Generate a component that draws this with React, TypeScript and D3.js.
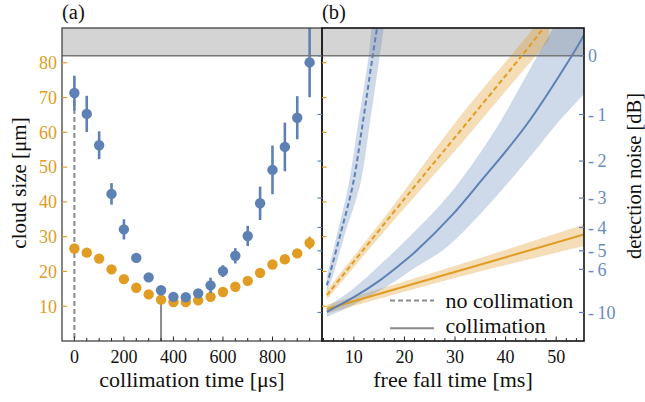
import React from "react";
import * as d3 from "d3";

// ---------- panel (a) data ----------
const collimationTimes = [0, 50, 100, 150, 200, 250, 300, 350, 400, 450, 500, 550, 600, 650, 700, 750, 800, 850, 900, 950];
const blueCloudSize = [71.3, 65.3, 56.3, 42.3, 32.1, 23.9, 18.3, 14.6, 12.7, 12.6, 13.7, 16.0, 20.1, 24.5, 30.2, 39.6, 49.2, 55.8, 64.2, 80.1];
const blueCloudErr = [5.0, 5.2, 4.0, 3.1, 2.9, 1.2, 0.8, 0.6, 0.6, 0.6, 0.8, 2.2, 1.7, 2.2, 2.9, 4.8, 7.0, 7.0, 6.2, 10.0];
const orangeCloudSize = [26.6, 25.4, 23.7, 20.6, 17.8, 15.3, 13.4, 11.9, 11.2, 11.2, 11.7, 12.7, 14.1, 15.6, 17.3, 19.6, 22.0, 23.5, 25.2, 28.2];
const orangeCloudErr = [0.5, 0.5, 0.5, 0.5, 0.5, 0.5, 0.5, 0.5, 0.5, 0.5, 0.5, 0.5, 0.5, 0.5, 0.5, 0.5, 0.6, 0.6, 0.8, 1.8];
const sizeTicks = [10, 20, 30, 40, 50, 60, 70, 80];
const collimationTicks = [0, 200, 400, 600, 800];
const dashedMarkerTime = 0;
const solidMarkerTime = 350;

// ---------- panel (b) data (free fall time ms, cloud size um) ----------
const blueNoCollT = [4.66, 7.3, 9.8, 11.7, 13.7, 14.8];
const blueNoCollS = [16.0, 30.5, 44.9, 62.1, 81.8, 92];
const blueNoCollUpT = [4.66, 6.64, 8.95, 10.8, 12.9, 13.6];
const blueNoCollUpS = [18.6, 30.5, 44.9, 62.1, 81.8, 92];
const blueNoCollLoT = [4.66, 5.45, 8.16, 11.25, 13.1, 15.1, 16.1];
const blueNoCollLoS = [14.5, 17.0, 30.5, 44.9, 62.1, 81.8, 92];

const orangeNoCollT = [4.66, 22.25, 29.57, 43.06, 48.6];
const orangeNoCollS = [13.2, 44.9, 57.8, 81.8, 92];
const orangeNoCollBandT = [4.66, 17, 29.6, 43, 48.6];
const orangeNoCollHi = [14.6, 37.4, 62.0, 85.5, 95.5];
const orangeNoCollLo = [11.9, 33.2, 54.0, 77.0, 86.5];

const blueCollT = [4.66, 10, 15, 19, 22.1, 29.6, 34.5, 44.1, 53, 55.5];
const blueCollS = [8.4, 12.6, 17.3, 21.8, 25.6, 36.5, 44.9, 62.1, 81.8, 88];
const blueCollBandT = [4.66, 10, 16.9, 22, 27.3, 31, 38.1, 45.7, 50, 55.5];
const blueCollHi = [9.8, 15.2, 24.2, 31.5, 39.5, 46.0, 61.0, 80.5, 91.5, 106];
const blueCollLo = [6.9, 10.4, 16.0, 21.0, 25.8, 30.5, 41.5, 54.5, 62.2, 71.0];

const orangeCollT = [4.66, 29.6, 55.5];
const orangeCollS = [9.2, 19.7, 30.6];
const orangeCollHi = [10.4, 21.4, 33.5];
const orangeCollLo = [7.9, 18.0, 27.3];

const fallTicks = [10, 20, 30, 40, 50];
const dbTicks = [0, -1, -2, -3, -4, -5, -6, -10];
const dbReferenceSize = 82;
const legendLabels = ["no collimation", "collimation"];

// ---------- styling ----------
const BLUE = "#5e81b5";
const ORANGE = "#e19c24";
const BLUE_TXT = "#6a8bbf";
const GRAY = "#8a8a8a";
const FF = "Liberation Serif";

const W = 645, H = 402;
const TOP = 28, BOT = 341;
const AL = 62, AR = 322, BL = 322, BR = 584;

const xA = d3.scaleLinear().domain([-50, 1000]).range([AL, AR]);
const xB = d3.scaleLinear().domain([3.7, 55.5]).range([BL, BR]);
const y = d3.scaleLinear().domain([0, 90]).range([BOT, TOP]);
const dbToSize = (db: number) => dbReferenceSize * Math.pow(10, db / 10);

const zip = (a: number[], b: number[]) => a.map((v, i) => [v, b[i]] as [number, number]);
const lineB = d3.line<[number, number]>().x(d => xB(d[0])).y(d => y(d[1])).curve(d3.curveCatmullRom.alpha(0.5));
const band = (up: [number, number][], lo: [number, number][]) => {
  const a = lineB(up) as string;
  const b = lineB(lo.slice().reverse()) as string;
  return a + "L" + b.slice(1) + "Z";
};

export default function App() {
  const minorA = d3.range(0, 1000, 50);
  const minorB = d3.range(4, 56, 2);
  return (
    <svg width={W} height={H} style={{ position: "absolute", left: 0, top: 0, background: "#fff" }}>
      <style>{`text { font-family: "Liberation Serif", "Times New Roman", Times; }`}</style>
      <defs>
        <clipPath id="clipA"><rect x={AL} y={TOP} width={AR - AL} height={BOT - TOP} /></clipPath>
        <clipPath id="clipB"><rect x={BL} y={TOP} width={BR - BL} height={BOT - TOP} /></clipPath>
      </defs>

      {/* gray region above 0 dB */}
      <rect x={AL} y={TOP} width={BR - AL} height={y(dbReferenceSize) - TOP} fill="#d4d4d4" />

      {/* ---------- panel (a) ---------- */}
      <g clipPath="url(#clipA)">
        <line x1={xA(dashedMarkerTime)} x2={xA(dashedMarkerTime)} y1={y(blueCloudSize[0])} y2={BOT} stroke={GRAY} strokeWidth={2} strokeDasharray="5,3" />
        <line x1={xA(solidMarkerTime)} x2={xA(solidMarkerTime)} y1={y(blueCloudSize[7])} y2={BOT} stroke={GRAY} strokeWidth={2} />
        {collimationTimes.map((t, i) => (
          <g key={"o" + i}>
            <line x1={xA(t)} x2={xA(t)} y1={y(orangeCloudSize[i] - orangeCloudErr[i])} y2={y(orangeCloudSize[i] + orangeCloudErr[i])} stroke={ORANGE} strokeWidth={2.6} />
            <circle cx={xA(t)} cy={y(orangeCloudSize[i])} r={5.2} fill={ORANGE} />
          </g>
        ))}
        {collimationTimes.map((t, i) => (
          <g key={"b" + i}>
            <line x1={xA(t)} x2={xA(t)} y1={y(blueCloudSize[i] - blueCloudErr[i])} y2={y(blueCloudSize[i] + blueCloudErr[i])} stroke={BLUE} strokeWidth={2.6} />
            <circle cx={xA(t)} cy={y(blueCloudSize[i])} r={5.2} fill={BLUE} />
          </g>
        ))}
      </g>

      {/* ---------- panel (b) ---------- */}
      <g clipPath="url(#clipB)">
        <path d={band(zip(orangeNoCollBandT, orangeNoCollHi), zip(orangeNoCollBandT, orangeNoCollLo))} fill={ORANGE} fillOpacity={0.33} />
        <path d={band(zip(orangeCollT, orangeCollHi), zip(orangeCollT, orangeCollLo))} fill={ORANGE} fillOpacity={0.33} />
        <path d={band(zip(blueNoCollUpT, blueNoCollUpS), zip(blueNoCollLoT, blueNoCollLoS))} fill={BLUE} fillOpacity={0.3} />
        <path d={band(zip(blueCollBandT, blueCollHi), zip(blueCollBandT, blueCollLo))} fill={BLUE} fillOpacity={0.3} />
      </g>
      <line x1={AL} x2={BR} y1={y(dbReferenceSize)} y2={y(dbReferenceSize)} stroke="#777" strokeWidth={1.6} />
      <g clipPath="url(#clipB)" fill="none" strokeWidth={2}>
        <path d={lineB(zip(orangeCollT, orangeCollS)) as string} stroke={ORANGE} />
        <path d={lineB(zip(blueCollT, blueCollS)) as string} stroke={BLUE} />
        <path d={lineB(zip(orangeNoCollT, orangeNoCollS)) as string} stroke={ORANGE} strokeDasharray="5,3" />
        <path d={lineB(zip(blueNoCollT, blueNoCollS)) as string} stroke={BLUE} strokeDasharray="5,3" />
      </g>

      {/* legend */}
      <line x1={390} x2={434} y1={300.5} y2={300.5} stroke={GRAY} strokeWidth={2} strokeDasharray="5,3" />
      <line x1={390} x2={434} y1={328.3} y2={328.3} stroke={GRAY} strokeWidth={2} />
      <text x={445.5} y={308} fontSize={22} fill="#111" fontFamily={FF}>{legendLabels[0]}</text>
      <text x={445.5} y={333} fontSize={22} fill="#111" fontFamily={FF}>{legendLabels[1]}</text>

      {/* frames */}
      <rect x={AL} y={TOP} width={AR - AL} height={BOT - TOP} fill="none" stroke="#444" strokeWidth={1.3} />
      <rect x={BL} y={TOP} width={BR - BL} height={BOT - TOP} fill="none" stroke="#111" strokeWidth={1.6} />

      {/* size ticks (orange) */}
      {sizeTicks.map(s => (
        <g key={"st" + s}>
          <line x1={AL} x2={AL + 5} y1={y(s)} y2={y(s)} stroke={ORANGE} strokeWidth={1.2} />
          <line x1={BL} x2={BL + 4.5} y1={y(s)} y2={y(s)} stroke={ORANGE} strokeWidth={1.2} />
          <text x={57} y={y(s)} dy="0.35em" textAnchor="end" fontSize={18} fill={ORANGE} fontFamily={FF}>{s}</text>
        </g>
      ))}
      {/* dB ticks (blue) */}
      {dbTicks.map(db => (
        <g key={"db" + db}>
          <line x1={AR - 4.5} x2={AR} y1={y(dbToSize(db))} y2={y(dbToSize(db))} stroke={BLUE} strokeWidth={1.2} />
          <line x1={BR - 5} x2={BR} y1={y(dbToSize(db))} y2={y(dbToSize(db))} stroke={BLUE} strokeWidth={1.2} />
          <text x={588} y={y(dbToSize(db))} dy="0.35em" fontSize={18} fill={BLUE_TXT} fontFamily={FF}>{db === 0 ? "0" : "-\u2009" + Math.abs(db)}</text>
        </g>
      ))}
      {/* bottom ticks */}
      {minorA.map(t => (
        <line key={"ta" + t} x1={xA(t)} x2={xA(t)} y1={BOT} y2={BOT - (t % 200 === 0 ? 4.5 : 3)} stroke="#222" strokeWidth={1} />
      ))}
      {collimationTicks.map(t => (
        <text key={"la" + t} x={xA(t)} y={363} textAnchor="middle" fontSize={18} fill="#111" fontFamily={FF}>{t}</text>
      ))}
      {minorB.map(t => (
        <line key={"tb" + t} x1={xB(t)} x2={xB(t)} y1={BOT} y2={BOT - (t % 10 === 0 ? 4.5 : 3)} stroke="#222" strokeWidth={1} />
      ))}
      {fallTicks.map(t => (
        <text key={"lb" + t} x={xB(t)} y={363} textAnchor="middle" fontSize={18} fill="#111" fontFamily={FF}>{t}</text>
      ))}

      {/* titles */}
      <text x={(AL + AR) / 2} y={387} textAnchor="middle" fontSize={22} fill="#111" fontFamily={FF}>collimation time [μs]</text>
      <text x={(BL + BR) / 2} y={387} textAnchor="middle" fontSize={22} fill="#111" fontFamily={FF}>free fall time [ms]</text>
      <text transform="translate(25.5,183) rotate(-90)" textAnchor="middle" fontSize={21} fill="#111" fontFamily={FF}>cloud size [μm]</text>
      <text transform="translate(641,176) rotate(-90)" textAnchor="middle" fontSize={20.5} fill="#111" fontFamily={FF}>detection noise [dB]</text>
      <text x={62} y={19} fontSize={20.5} fill="#111" fontFamily={FF}>(a)</text>
      <text x={322} y={19} fontSize={20.5} fill="#111" fontFamily={FF}>(b)</text>
    </svg>
  );
}
